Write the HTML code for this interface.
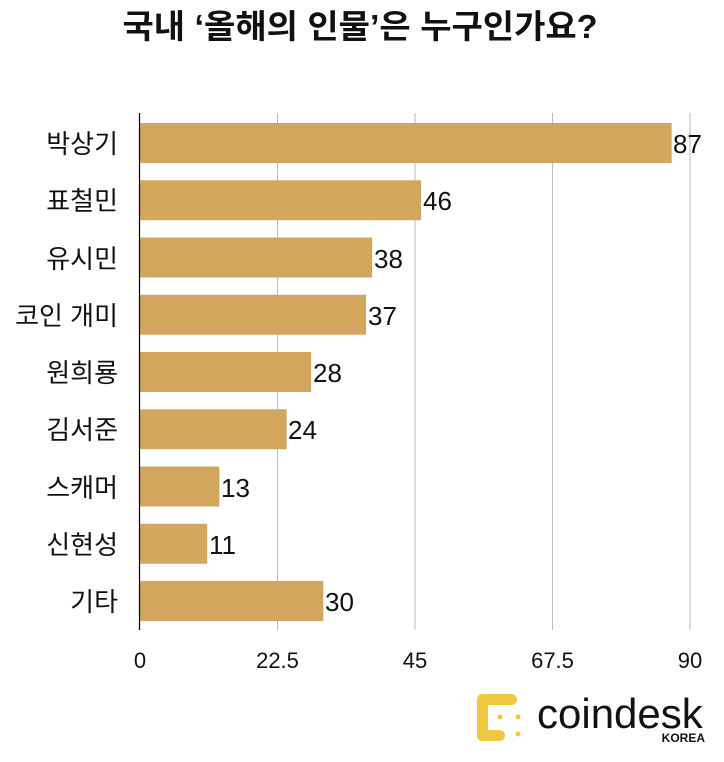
<!DOCTYPE html>
<html><head><meta charset="utf-8"><style>
body{margin:0;background:#fff;}
svg text{font-family:"Liberation Sans","Noto Sans CJK KR",sans-serif;}
</style></head><body>
<svg width="724" height="757" xmlns="http://www.w3.org/2000/svg">
<rect width="724" height="757" fill="#fff"/>
<text x="360" y="38" text-anchor="middle" font-size="33" font-weight="bold" fill="#111" textLength="475" lengthAdjust="spacingAndGlyphs">국내 ‘올해의 인물’은 누구인가요?</text>
<g stroke="#bbb" stroke-width="1">
<line x1="277.5" y1="113" x2="277.5" y2="630"/>
<line x1="415" y1="113" x2="415" y2="630"/>
<line x1="552.5" y1="113" x2="552.5" y2="630"/>
<line x1="690" y1="113" x2="690" y2="630"/>
</g>
<g fill="#D2A75D">
<rect x="140" y="123" width="531.7" height="40"/>
<rect x="140" y="180.25" width="281.1" height="40"/>
<rect x="140" y="237.5" width="232.2" height="40"/>
<rect x="140" y="294.75" width="226.1" height="40"/>
<rect x="140" y="352" width="171.1" height="40"/>
<rect x="140" y="409.25" width="146.7" height="40"/>
<rect x="140" y="466.5" width="79.4" height="40"/>
<rect x="140" y="523.75" width="67.2" height="40"/>
<rect x="140" y="581" width="183.3" height="40"/>
</g>
<line x1="139.5" y1="113" x2="139.5" y2="630" stroke="#000" stroke-width="1.2"/>
<g font-size="26" fill="#111" text-anchor="end">
<text x="118" y="153">박상기</text>
<text x="118" y="210">표철민</text>
<text x="118" y="268">유시민</text>
<text x="118" y="325">코인 개미</text>
<text x="118" y="382">원희룡</text>
<text x="118" y="439">김서준</text>
<text x="118" y="497">스캐머</text>
<text x="118" y="554">신현성</text>
<text x="118" y="611">기타</text>
</g>
<g font-size="26" fill="#111">
<text x="673" y="153">87</text>
<text x="423" y="210">46</text>
<text x="374" y="268">38</text>
<text x="368" y="325">37</text>
<text x="313" y="382">28</text>
<text x="288" y="439">24</text>
<text x="221" y="497">13</text>
<text x="209" y="554">11</text>
<text x="325" y="611">30</text>
</g>
<g font-size="22" fill="#111" text-anchor="middle">
<text x="140" y="668">0</text>
<text x="277.5" y="668">22.5</text>
<text x="415" y="668">45</text>
<text x="552.5" y="668">67.5</text>
<text x="690" y="668">90</text>
</g>
<g fill="#EFC93E">
<rect x="477" y="694" width="40" height="11" rx="5.5"/>
<rect x="477" y="694" width="11" height="47" rx="5.5"/>
<rect x="477" y="730" width="28" height="11" rx="5.5"/>
<circle cx="500" cy="717" r="2.5"/><circle cx="518" cy="717" r="2.5"/><circle cx="518" cy="734" r="2.5"/>
</g>
<text x="537" y="728" font-size="42" fill="#111">coindesk</text>
<text x="705" y="742" font-size="12" font-weight="bold" fill="#111" text-anchor="end">KOREA</text>
</svg>
</body></html>
